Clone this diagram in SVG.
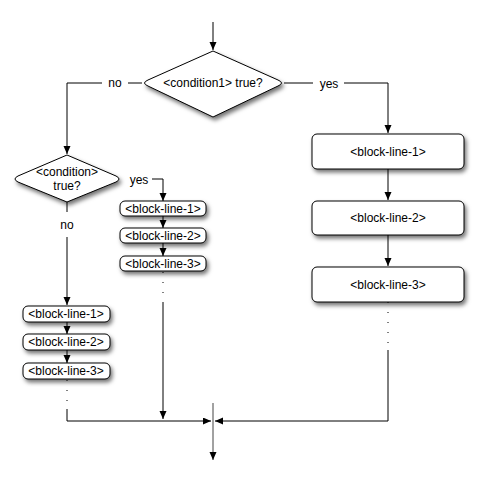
<svg xmlns="http://www.w3.org/2000/svg" width="480" height="481" viewBox="0 0 480 481">
<defs>
<marker id="ah" markerUnits="userSpaceOnUse" markerWidth="9" markerHeight="8" refX="8" refY="3.5" orient="auto">
<path d="M0,0 L8,3.5 L0,7 Z" fill="#000"/>
</marker>
<filter id="sh" x="-20%" y="-30%" width="150%" height="180%">
<feDropShadow dx="2" dy="3" stdDeviation="2" flood-color="#000" flood-opacity="0.55"/>
</filter>
<style>
.shape{fill:#fff;stroke:#000;stroke-width:1;filter:url(#sh)}
.t{font-family:"Liberation Sans",Arial,sans-serif;font-size:12px;fill:#000;text-anchor:middle}
.c{fill:none;stroke:#000;stroke-width:1}
.a{marker-end:url(#ah)}
.d{stroke-dasharray:1,9}
</style>
</defs>
<rect width="480" height="481" fill="#fff"/>
<g id="connectors">
<path class="c a" d="M213,22 V50"/>
<path class="c" d="M142,83 H128"/>
<path class="c a" d="M102,83 H67 V154"/>
<path class="c" d="M284,83 H313"/>
<path class="c a" d="M344,83 H388 V133"/>
<path class="c a" d="M388,169 V200"/>
<path class="c a" d="M388,235 V266"/>
<path class="c d" d="M388,302 V350"/>
<path class="c a" d="M388,350 V421 H215"/>
<path class="c a" d="M152,179 H163 V201"/>
<path class="c a" d="M163,216 V228"/>
<path class="c a" d="M163,243 V256"/>
<path class="c d" d="M163,272 V303"/>
<path class="c a" d="M163,303 V419"/>
<path class="c" d="M67,202 V212"/>
<path class="c a" d="M67,237 V305"/>
<path class="c a" d="M67,322 V334"/>
<path class="c a" d="M67,350 V363"/>
<path class="c d" d="M67,380 V409"/>
<path class="c a" d="M67,409 V421 H211"/>
<path class="c a" d="M213,403 V460" style="stroke:#444"/>
</g>
<g id="decision1">
<path class="shape" d="M213,51 L278,80 Q285,83 278,86 L213,117 L148,86 Q141,83 148,80 Z"/>
<text class="t" x="213" y="87">&lt;condition1&gt; true?</text>
</g>
<g id="label-no1"><text class="t" x="115" y="87">no</text></g>
<g id="label-yes1"><text class="t" x="329" y="88">yes</text></g>
<g id="r1">
<rect class="shape" x="312" y="134" width="152" height="35" rx="5"/>
<text class="t" x="388" y="156">&lt;block-line-1&gt;</text>
</g>
<g id="r2">
<rect class="shape" x="312" y="201" width="152" height="34" rx="5"/>
<text class="t" x="388" y="222">&lt;block-line-2&gt;</text>
</g>
<g id="r3">
<rect class="shape" x="312" y="267" width="152" height="35" rx="5"/>
<text class="t" x="388" y="289">&lt;block-line-3&gt;</text>
</g>
<g id="decision2">
<path class="shape" d="M67,155 L116,176 Q122,179 116,182 L67,202 L18,182 Q12,179 18,176 Z"/>
<text class="t" x="67" y="176">&lt;condition&gt;</text>
<text class="t" x="67" y="190">true?</text>
</g>
<g id="label-yes2"><text class="t" x="139" y="184">yes</text></g>
<g id="label-no2"><text class="t" x="67" y="229">no</text></g>
<g id="m1">
<rect class="shape" x="120" y="201" width="86" height="15" rx="5"/>
<text class="t" x="163" y="213">&lt;block-line-1&gt;</text>
</g>
<g id="m2">
<rect class="shape" x="120" y="228" width="86" height="15" rx="5"/>
<text class="t" x="163" y="240">&lt;block-line-2&gt;</text>
</g>
<g id="m3">
<rect class="shape" x="120" y="256" width="86" height="15" rx="5"/>
<text class="t" x="163" y="268">&lt;block-line-3&gt;</text>
</g>
<g id="l1">
<rect class="shape" x="23" y="306" width="87" height="16" rx="5"/>
<text class="t" x="66" y="318">&lt;block-line-1&gt;</text>
</g>
<g id="l2">
<rect class="shape" x="23" y="334" width="87" height="16" rx="5"/>
<text class="t" x="66" y="346">&lt;block-line-2&gt;</text>
</g>
<g id="l3">
<rect class="shape" x="23" y="363" width="87" height="16" rx="5"/>
<text class="t" x="66" y="375">&lt;block-line-3&gt;</text>
</g>
</svg>
